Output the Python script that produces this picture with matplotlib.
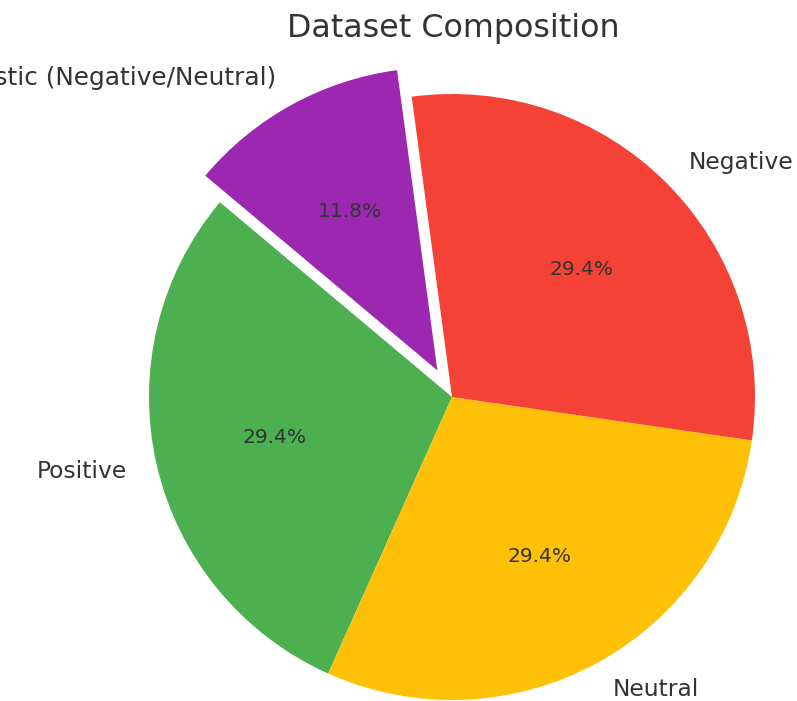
import matplotlib
matplotlib.use("Agg")
import matplotlib.pyplot as plt

labels = ["Positive", "Neutral", "Negative", "Sarcastic (Negative/Neutral)"]
counts = [5, 5, 5, 2]
colors = ["#4CAF50", "#FFC107", "#F44336", "#9C27B0"]
explode = [0, 0, 0, 0.1]

fig = plt.figure(figsize=(7.97, 7.01), dpi=100)
ax = fig.add_axes([0, 0, 1, 1])

wedges, texts, autotexts = ax.pie(
    counts,
    labels=labels,
    colors=colors,
    explode=explode,
    autopct="%1.1f%%",
    startangle=140,
    textprops={"color": "#333333"},
)
for t in texts:
    t.set_fontsize(16.8)
texts[3].set_fontsize(17.8)
for t in autotexts:
    t.set_fontsize(14.5)

# pie centre at (452, 397) px, radius about 303 px
r_px = 303.0
cx, cy = 452.0, 397.0
ax.set_xlim(-cx / r_px, (797 - cx) / r_px)
ax.set_ylim(-(701 - cy) / r_px, cy / r_px)
ax.set_aspect("equal", adjustable="datalim")

fig.text(453.5 / 797, 1 - 28 / 701, "Dataset Composition",
         ha="center", va="center", fontsize=22.9, color="#333333")

fig.savefig("out.png", dpi=100)
